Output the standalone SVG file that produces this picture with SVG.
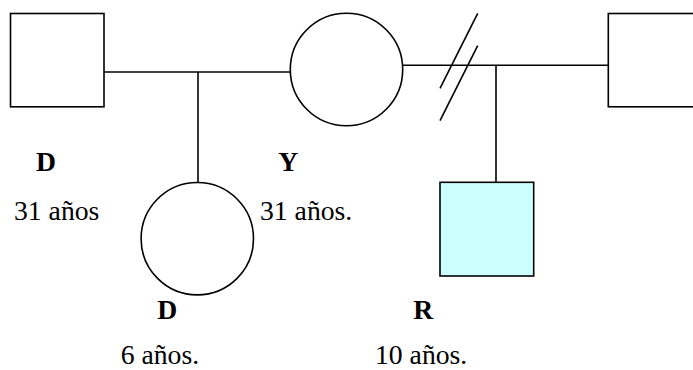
<svg xmlns="http://www.w3.org/2000/svg" width="693" height="370" viewBox="0 0 693 370">
<style>
.s{fill:#fff;stroke:#000;stroke-width:1.6}
.c{fill:none;stroke:#000;stroke-width:1.6}
.t{font-family:"Liberation Serif","Times New Roman",serif;font-size:27.7px;fill:#000}
.b{font-weight:bold}
</style>
<rect width="693" height="370" fill="#fff"/>
<g id="connectors">
<line class="c" x1="104" y1="72" x2="290.5" y2="72"/>
<line class="c" x1="198" y1="72" x2="198" y2="182.5"/>
<line class="c" x1="402.5" y1="65.3" x2="608.3" y2="65.3"/>
<line class="c" x1="496" y1="65.3" x2="496" y2="189.5"/>
<line class="c" x1="477.7" y1="13.3" x2="440" y2="88.3"/>
<line class="c" x1="477.7" y1="45.7" x2="440" y2="120.7"/>
</g>
<g id="node-d-father">
<rect class="s" x="10.5" y="13.5" width="93.5" height="93.3"/>
<text class="t b" x="36" y="170.7">D</text>
<text class="t" x="14" y="220">31 años</text>
</g>
<g id="node-y-mother">
<circle class="s" cx="346.5" cy="69.5" r="56.2"/>
<text class="t b" x="278.3" y="170.7">Y</text>
<text class="t" x="260" y="220">31 años.</text>
</g>
<g id="node-right-male">
<rect class="s" x="608.3" y="13.5" width="100" height="93.3"/>
</g>
<g id="node-d-daughter">
<circle class="s" cx="197.3" cy="238.7" r="56.2"/>
<text class="t b" x="157.3" y="319.3">D</text>
<text class="t" x="120.7" y="364">6 años.</text>
</g>
<g id="node-r-son">
<rect class="s" x="440" y="182.3" width="93.7" height="93.7" style="fill:#ccffff"/>
<text class="t b" x="413.3" y="319.3">R</text>
<text class="t" x="375" y="364">10 años.</text>
</g>
</svg>
